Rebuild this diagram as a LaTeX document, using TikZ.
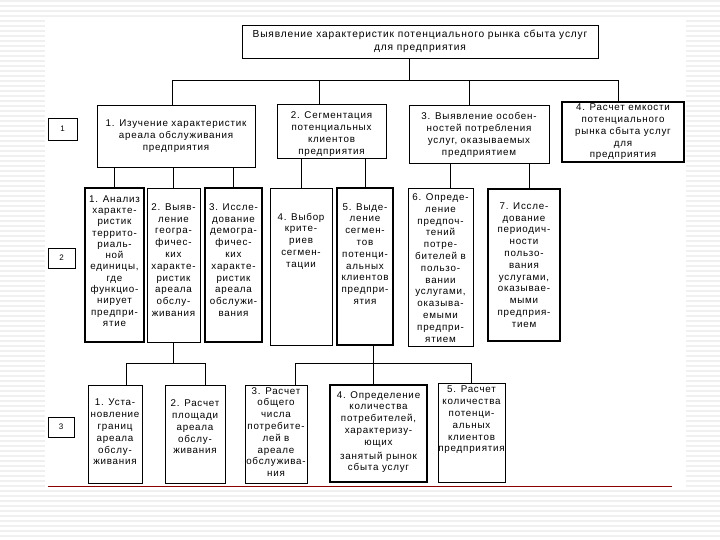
\documentclass[tikz,border=0pt]{standalone}
\usepackage{fontspec}
\setmainfont{Liberation Sans}[LetterSpace=8]

\begin{document}
\begin{tikzpicture}[x=1pt, y=-1pt,
  box/.style={draw, line width=0.8pt, inner sep=0pt},
  txt/.style={align=center, inner sep=0pt, font=\fontsize{9.8}{11.8}\selectfont},
  num/.style={draw, line width=0.8pt, inner sep=0pt, font=\fontsize{8}{9}\selectfont},
  link/.style={line width=0.9pt},
  stripe/.style={gray!12, line width=1.1pt}]

  % slide background
  \useasboundingbox (0,0) rectangle (720,540);
  \foreach \y in {1,6,...,540} \draw[stripe] (0,\y) -- (720,\y);
  \fill[white] (45,20) rectangle (686,489);
  \draw[red!55!black, line width=1pt] (48,486) -- (672,486);

  % level numbers
  \node[num, minimum width=29, minimum height=22] (n1) at (62.5,129) {1};
  \node[num, minimum width=27, minimum height=20] (n2) at (61.5,258) {2};
  \node[num, minimum width=26, minimum height=20] (n3) at (61,427) {3};

  % goal
  \node[box, minimum width=356, minimum height=33] (top) at (420,41.5) {};
  \node[txt, font=\fontsize{10.2}{12.5}\selectfont] (topt) at (420,41.5)
    {Выявление характеристик потенциального рынка сбыта услуг\\для предприятия};

  % level 1
  \node[box, minimum width=158, minimum height=62] (b1) at (176,136) {};
  \node[txt] (b1t) at (176,136) {1. Изучение характеристик\\ареала обслуживания\\предприятия};
  \node[box, minimum width=109, minimum height=54] (b2) at (331.5,131) {};
  \node[txt] (b2t) at (331.5,134) {2. Сегментация\\потенциальных\\клиентов\\предприятия};
  \node[box, minimum width=140, minimum height=58] (b3) at (479,134) {};
  \node[txt] (b3t) at (479,135) {3. Выявление особен-\\ностей потребления\\услуг, оказываемых\\предприятием};
  \node[box, line width=1.1pt, minimum width=122, minimum height=60] (b4) at (623,132) {};
  \node[txt] (b4t) at (623,132) {4. Расчет емкости\\потенциального\\рынка сбыта услуг\\для\\предприятия};

  % level 2
  \node[box, line width=1.1pt, minimum width=59, minimum height=154] (c1) at (114.5,265) {};
  \node[txt, font=\fontsize{9.8}{11.3}\selectfont] (c1t) at (114.5,261) {1. Анализ\\характе-\\ристик\\террито-\\риаль-\\ной\\единицы,\\где\\функцио-\\нирует\\предпри-\\ятие};
  \node[box, minimum width=53, minimum height=154] (c2) at (173.5,265) {};
  \node[txt] (c2t) at (173.5,260) {2. Выяв-\\ление\\геогра-\\фичес-\\ких\\характе-\\ристик\\ареала\\обслу-\\живания};
  \node[box, line width=1.1pt, minimum width=57, minimum height=154] (c3) at (233.5,265) {};
  \node[txt] (c3t) at (233.5,260) {3. Иссле-\\дование\\демогра-\\фичес-\\ких\\характе-\\ристик\\ареала\\обслужи-\\вания};
  \node[box, minimum width=62, minimum height=157] (c4) at (301,266.5) {};
  \node[txt] (c4t) at (301,241) {4. Выбор\\крите-\\риев\\сегмен-\\тации};
  \node[box, line width=1.1pt, minimum width=56, minimum height=157] (c5) at (365,266.5) {};
  \node[txt] (c5t) at (365,254) {5. Выде-\\ление\\сегмен-\\тов\\потенци-\\альных\\клиентов\\предпри-\\ятия};
  \node[box, minimum width=65, minimum height=158] (c6) at (440.5,267) {};
  \node[txt] (c6t) at (440.5,268) {6. Опреде-\\ление\\предпоч-\\тений\\потре-\\бителей в\\пользо-\\вании\\услугами,\\оказыва-\\емыми\\предпри-\\ятием};
  \node[box, line width=1.1pt, minimum width=72, minimum height=152] (c7) at (524,265) {};
  \node[txt] (c7t) at (524,265) {7. Иссле-\\дование\\периодич-\\ности\\пользо-\\вания\\услугами,\\оказывае-\\мыми\\предприя-\\тием};

  % level 3
  \node[box, minimum width=54, minimum height=98] (d1) at (115,434) {};
  \node[txt] (d1t) at (115,432) {1. Уста-\\новление\\границ\\ареала\\обслу-\\живания};
  \node[box, minimum width=60, minimum height=98] (d2) at (195,434) {};
  \node[txt] (d2t) at (195,427) {2. Расчет\\площади\\ареала\\обслу-\\живания};
  \node[box, minimum width=62, minimum height=98] (d3) at (276,434) {};
  \node[txt] (d3t) at (276,432) {3. Расчет\\общего\\числа\\потребите-\\лей в\\ареале\\обслужива-\\ния};
  \node[box, line width=1.1pt, minimum width=97, minimum height=97] (d4) at (378.5,433.5) {};
  \node[txt] (d4t) at (378.5,432) {4. Определение\\количества\\потребителей,\\характеризу-\\ющих\\[2pt]занятый рынок\\сбыта услуг};
  \node[box, minimum width=67, minimum height=99] (d5) at (471.5,432.5) {};
  \node[txt] (d5t) at (471.5,420) {5. Расчет\\количества\\потенци-\\альных\\клиентов\\предприятия};

  % goal -> level 1
  \coordinate (j0) at (409,80);
  \draw[link] (top.south -| j0) -- (j0);
  \draw[link] ([xshift=-4]b1.north) -- ([xshift=-4]b1.north |- j0)
    -- ([xshift=-5]b4.north |- j0) -- ([xshift=-5]b4.north);
  \draw[link] ([xshift=-12]b2.north) -- ([xshift=-12]b2.north |- j0);
  \draw[link] ([xshift=-10]b3.north) -- ([xshift=-10]b3.north |- j0);

  % level 1 -> level 2
  \foreach \c in {c1,c2,c3} \draw[link] (\c.north) -- (\c.north |- b1.south);
  \foreach \c in {c4,c5} \draw[link] (\c.north) -- (\c.north |- b2.south);
  \draw[link] ([xshift=10]c6.north) -- ([xshift=10]c6.north |- b3.south);
  \draw[link] ([xshift=5]c7.north) -- ([xshift=5]c7.north |- b3.south);

  % level 2 -> level 3
  \coordinate (j1) at (0,363);
  \draw[link] (c2.south) -- (c2.south |- j1);
  \draw[link] ([xshift=11]d1.north) -- ([xshift=11]d1.north |- j1)
    -- ([xshift=10]d2.north |- j1) -- ([xshift=10]d2.north);
  \draw[link, line width=1.4pt] ([xshift=-5]d4.north) -- ([xshift=-5]d4.north |- c5.south);
  \draw[link] ([xshift=19]d3.north) -- ([xshift=19]d3.north |- j1)
    -- (d5.north |- j1) -- (d5.north);
\end{tikzpicture}
\end{document}
